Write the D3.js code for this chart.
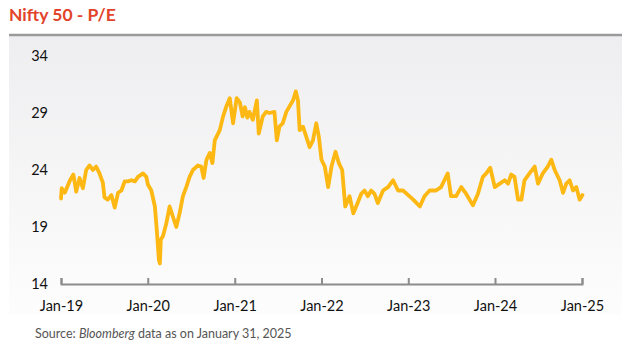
<!DOCTYPE html>
<html>
<head>
<meta charset="utf-8">
<script src="https://cdn.jsdelivr.net/npm/d3@7/dist/d3.min.js"></script>
<style>
  body{margin:0;background:#fff;}
  svg{display:block;font-family:Lato,"Open Sans",sans-serif;}
</style>
</head>
<body>
<svg id="chart" width="639" height="354"></svg>
<script>
// P/E readings
const dates = [
  '2019-01-01','2019-01-04','2019-01-17','2019-02-08','2019-02-22','2019-03-06','2019-03-20','2019-04-03',
  '2019-04-17','2019-05-01','2019-05-15','2019-05-29','2019-06-12','2019-06-26','2019-07-03','2019-07-17',
  '2019-08-01','2019-08-15','2019-08-29','2019-09-12','2019-09-26','2019-10-10','2019-10-24','2019-11-08',
  '2019-11-21','2019-12-12','2019-12-26','2020-01-02','2020-01-16','2020-01-31','2020-02-07','2020-02-17',
  '2020-02-21','2020-02-25','2020-03-05','2020-03-19','2020-04-02','2020-04-16','2020-04-30','2020-05-14',
  '2020-05-28','2020-06-11','2020-06-25','2020-07-09','2020-07-30','2020-08-13','2020-08-23','2020-09-04',
  '2020-09-18','2020-09-29','2020-10-09','2020-10-30','2020-11-13','2020-11-27','2020-12-11','2020-12-25',
  '2021-01-09','2021-01-23','2021-02-03','2021-02-13','2021-02-23','2021-03-04','2021-03-18','2021-04-04',
  '2021-04-12','2021-04-29','2021-05-13','2021-05-27','2021-06-17','2021-06-27','2021-07-08','2021-07-22',
  '2021-08-06','2021-08-20','2021-09-03','2021-09-15','2021-09-24','2021-10-01','2021-10-15','2021-10-29',
  '2021-11-12','2021-11-26','2021-12-10','2021-12-21','2022-01-01','2022-01-15','2022-01-29','2022-02-12',
  '2022-03-01','2022-03-15','2022-03-29','2022-04-11','2022-04-29','2022-05-15','2022-05-27','2022-06-17',
  '2022-07-01','2022-07-15','2022-07-29','2022-08-12','2022-08-26','2022-09-17','2022-10-08','2022-10-29',
  '2022-11-19','2022-12-10','2023-01-01','2023-01-22','2023-02-19','2023-03-10','2023-04-01','2023-04-28',
  '2023-05-19','2023-06-02','2023-06-16','2023-06-30','2023-07-21','2023-08-12','2023-09-02','2023-09-30',
  '2023-10-21','2023-11-11','2023-11-25','2023-12-12','2023-12-31','2024-01-21','2024-02-11','2024-02-25',
  '2024-03-09','2024-03-23','2024-04-07','2024-04-21','2024-05-04','2024-05-25','2024-06-16','2024-06-30',
  '2024-07-20','2024-08-10','2024-08-25','2024-09-08','2024-09-29','2024-10-13','2024-10-27','2024-11-10',
  '2024-11-24','2024-12-08','2024-12-22','2025-01-03'
];
const pe = [
  21.5,22.4,22.0,23.1,23.6,22.1,23.3,22.4,
  24.0,24.4,24.0,24.3,23.7,22.9,21.6,21.4,
  21.8,20.7,22.0,22.2,23.0,23.0,23.1,23.0,
  23.4,23.7,23.4,22.7,22.2,20.8,19.0,16.1,
  15.8,17.9,18.2,19.3,20.8,19.9,19.0,20.2,
  21.7,22.5,23.4,24.0,24.4,24.3,23.3,24.9,
  25.5,24.6,26.6,27.5,28.7,29.6,30.3,28.1,
  30.3,29.9,28.7,29.5,28.6,29.1,28.4,30.1,
  27.2,28.7,29.1,29.0,29.1,26.6,27.8,28.1,
  29.1,29.6,30.1,30.9,30.1,27.5,27.8,26.9,
  26.0,26.6,28.1,26.9,24.9,24.3,22.5,24.3,
  25.6,24.6,24.0,20.8,21.7,20.2,20.8,21.9,
  22.2,21.7,22.2,21.9,21.1,22.2,22.5,23.1,
  22.2,22.2,21.8,21.4,20.8,21.7,22.2,22.2,
  22.5,23.1,23.7,21.7,21.7,22.5,21.9,20.9,
  21.9,23.4,23.7,24.2,22.5,22.8,23.1,22.8,
  23.6,23.4,21.4,21.4,23.1,23.7,24.3,22.8,
  23.7,24.3,24.9,24.0,23.1,22.0,22.8,23.1,
  22.2,22.5,21.4,21.8
];
const yTicks = [14,19,24,29,34];
const xTicks = ['2019-01-01','2020-01-01','2021-01-01','2022-01-01','2023-01-01','2024-01-01','2025-01-01'];

const parse = d3.timeParse('%Y-%m-%d');
const data = dates.map((d,i)=>({date:parse(d),value:pe[i]}));

const svg = d3.select('#chart');

// panel background
const grad = svg.append('defs').append('linearGradient')
  .attr('id','bg').attr('x1',0).attr('y1',0).attr('x2',0).attr('y2',1);
grad.append('stop').attr('offset','0%').attr('stop-color','#eeeef0');
grad.append('stop').attr('offset','100%').attr('stop-color','#fdfdfd');
svg.append('rect').attr('x',9).attr('y',35).attr('width',613).attr('height',280).attr('fill','url(#bg)');
svg.append('line').attr('x1',9).attr('x2',622).attr('y1',35).attr('y2',35)
  .attr('stroke','#9a9a9a').attr('stroke-width',2.5);

// title
svg.append('text').attr('x',9).attr('y',21)
  .attr('fill','#e2432a').attr('font-size',17.5).attr('font-weight','bold')
  .text('Nifty 50 - P/E');

const x = d3.scaleTime().domain([parse('2019-01-01'),parse('2025-01-01')]).range([61,582]);
const y = d3.scaleLinear().domain([14,34]).range([284,56]);

// x axis, ticks pointing up
const xa = svg.append('g').attr('transform','translate(0,284)')
  .call(d3.axisBottom(x).tickValues(xTicks.map(parse)).tickSize(-6).tickPadding(17)
    .tickFormat(d3.timeFormat('%b-%y')));
xa.select('.domain').attr('stroke','#8c8c8c').attr('stroke-width',2);
xa.selectAll('.tick line').attr('stroke','#8c8c8c').attr('stroke-width',2);
xa.selectAll('.tick text').attr('font-size',14.5).attr('fill','#111').attr('font-family','Lato,sans-serif');

// y axis, labels only
const ya = svg.append('g').attr('transform','translate(48,0)')
  .call(d3.axisLeft(y).tickValues(yTicks).tickSize(0).tickPadding(0));
ya.select('.domain').remove();
ya.selectAll('.tick text').attr('font-size',14.5).attr('fill','#111').attr('font-family','Lato,sans-serif');

// line
const line = d3.line().x(d=>x(d.date)).y(d=>y(d.value));
svg.append('path').datum(data).attr('d',line)
  .attr('fill','none').attr('stroke','#fdb813').attr('stroke-width',3.8)
  .attr('stroke-linejoin','round').attr('stroke-linecap','round');

// source
const src = svg.append('text').attr('x',35).attr('y',338).attr('font-size',12.5).attr('fill','#555');
src.append('tspan').text('Source: ');
src.append('tspan').attr('font-style','italic').text('Bloomberg');
src.append('tspan').text(' data as on January 31, 2025');
</script>
</body>
</html>
